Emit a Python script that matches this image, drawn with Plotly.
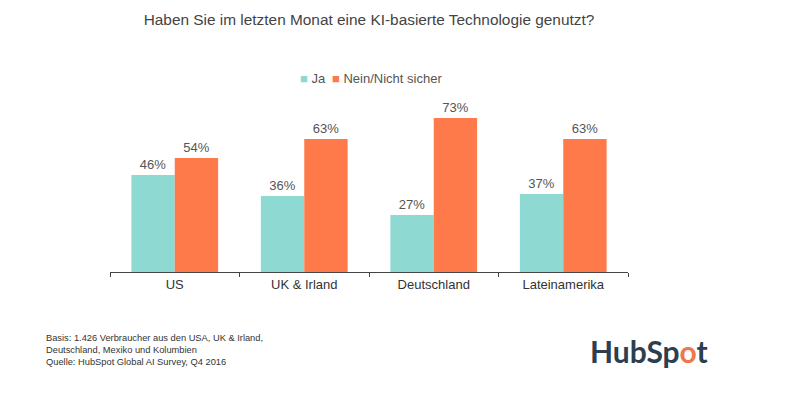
import plotly.graph_objects as go

categories = ["US", "UK & Irland", "Deutschland", "Lateinamerika"]
ja = [46, 36, 27, 37]
nein = [54, 63, 73, 63]
series_names = ["Ja", "Nein/Nicht sicher"]
title_text = "Haben Sie im letzten Monat eine KI-basierte Technologie genutzt?"
footnote = ("Basis: 1.426 Verbraucher aus den USA, UK & Irland,<br>"
            "Deutschland, Mexiko und Kolumbien<br>"
            "Quelle: HubSpot Global AI Survey, Q4 2016")

TEAL = "#8fd9d3"
ORANGE = "#ff7a4b"
OFF = 8  # page body margin

W, H = 800, 394
L, R_EDGE, TOP, BASE = 110 - OFF, 628 - OFF, 61 - OFF, 272 - OFF
PW, PH = R_EDGE - L, BASE - TOP


def px(x):
    return (x - OFF - L) / PW


def py(y):
    return (BASE - (y - OFF)) / PH


fig = go.Figure()
for name, vals, col in [(series_names[0], ja, TEAL), (series_names[1], nein, ORANGE)]:
    fig.add_trace(go.Bar(
        x=categories, y=vals, name=name, marker_color=col,
        marker_line_width=0,
        text=[f"{v}%" for v in vals], textposition="outside",
        textfont=dict(size=13, color="#555555", family="Liberation Sans"),
        cliponaxis=False, showlegend=False,
    ))

fig.update_layout(
    width=W, height=H,
    margin=dict(l=L, r=W - R_EDGE, t=TOP, b=H - BASE),
    paper_bgcolor="white", plot_bgcolor="white",
    barmode="group", bargap=0.33, bargroupgap=0,
    font=dict(family="Liberation Sans", color="#333333"),
    title=dict(text=title_text, x=0.5, xref="paper", xanchor="center",
               y=1 - (20 - OFF) / H, yanchor="middle",
               font=dict(size=15.4, color="#444444", family="Liberation Sans")),
    showlegend=False,
)
fig.update_xaxes(showline=True, linecolor="#444444", linewidth=1,
                 ticks="outside", ticklen=4, tickcolor="#444444",
                 tickson="boundaries", showgrid=False,
                 tickfont=dict(size=13, color="#333333"))
fig.update_yaxes(range=[0, 100], visible=False, showgrid=False)

# legend drawn as annotations
fig.add_annotation(
    text=f"<span style='color:{TEAL}'>■</span> {series_names[0]}",
    xref="paper", yref="paper", x=px(298), y=py(78),
    xanchor="left", yanchor="middle", showarrow=False,
    font=dict(size=13, color="#555555", family="Liberation Sans"))
fig.add_annotation(
    text=f"<span style='color:{ORANGE}'>■</span> {series_names[1]}",
    xref="paper", yref="paper", x=px(330), y=py(78),
    xanchor="left", yanchor="middle", showarrow=False,
    font=dict(size=13, color="#555555", family="Liberation Sans"))

fig.add_annotation(text=footnote, xref="paper", yref="paper",
                   x=px(44), y=py(331),
                   xanchor="left", yanchor="top", align="left", showarrow=False,
                   font=dict(size=9.3, color="#333333", family="Liberation Sans"))

fig.add_annotation(
    text="<b>HubSp<span style='color:#f2764b'>o</span>t</b>",
    xref="paper", yref="paper",
    x=px(649), y=py(351),
    xanchor="center", yanchor="middle", showarrow=False,
    font=dict(size=30, color="#2d3e50", family="Lato"))

fig.write_html("out.html")
